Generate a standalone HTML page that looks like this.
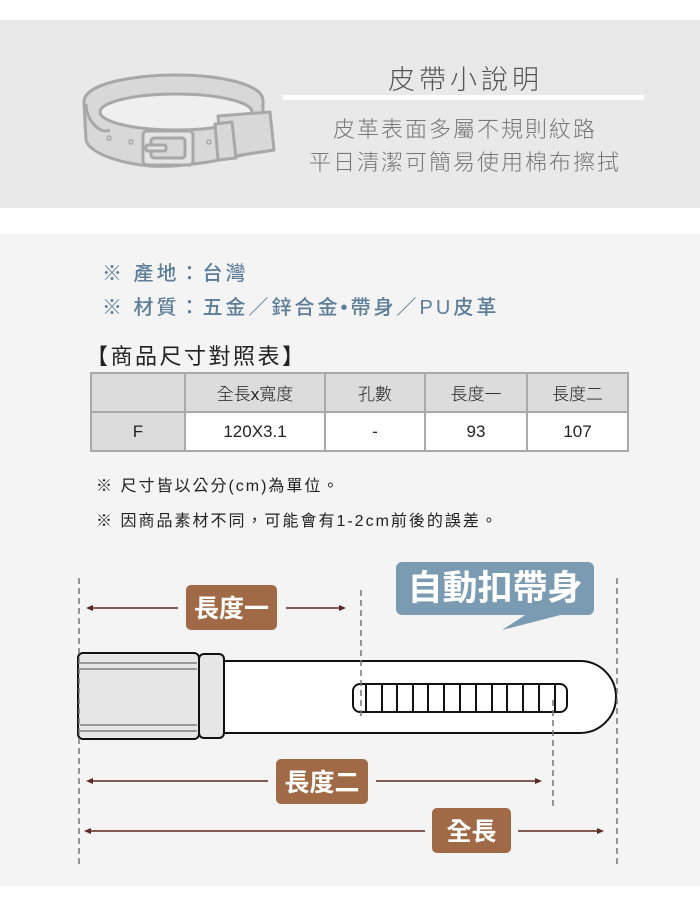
<!DOCTYPE html>
<html><head><meta charset="utf-8">
<style>
*{margin:0;padding:0;box-sizing:border-box}
body{width:700px;height:910px;background:#fff;position:relative;overflow:hidden;font-family:"Liberation Sans","Noto Sans CJK TC",sans-serif}
.band{position:absolute;left:0;top:20px;width:700px;height:188px;background:#e9e9e9}
.light{position:absolute;left:0;top:234px;width:700px;height:652px;background:#f4f4f4}
.t{position:absolute;white-space:nowrap;font-family:"Liberation Sans","Noto Sans CJK TC",sans-serif}
table{position:absolute;left:90px;top:372px;border-collapse:collapse;font-size:17px;color:#222}
td{border:2px solid #a9a9a9;text-align:center;height:39px;background:#fff;font-family:"Liberation Sans","Noto Sans CJK TC",sans-serif;font-weight:300}
tr.h td{background:#dcdcdc}
td.f{background:#dcdcdc}
.lab{position:absolute;background:#9f6a45;color:#fff;font-weight:700;border-radius:5px;text-align:center;font-family:"Noto Sans CJK TC",sans-serif}
</style></head><body>
<div class="band"></div>
<div class="light"></div>

<svg style="position:absolute;left:0;top:0" width="700" height="910">
<g fill="#d8d8d8" stroke="#a8a8a8" stroke-width="3" stroke-linejoin="round">
<path d="M84,102 C84,82 140,75 175,75 C220,75 262,84 263,100 L263,118 L260,150 C230,160 180,168 150,166 C110,162 88,150 86,140 Z"/>
<ellipse cx="176" cy="112" rx="76" ry="18" fill="#efefef"/>
<path d="M86,104 C86,120 100,135 110,130" fill="none"/>
<path d="M218,116 L270,112 L274,150 L222,158 Z"/>
<path d="M215,124 L232,122 L236,158 L218,160 Z"/>
<rect x="143" y="131" width="50" height="34" rx="4" fill="#e4e4e4"/>
<rect x="151" y="138" width="34" height="20" rx="3" fill="#d8d8d8"/>
<rect x="146" y="145" width="20" height="6" rx="2" fill="#e4e4e4"/>
<circle cx="109" cy="138" r="2" fill="none" stroke-width="1.5"/>
<circle cx="131" cy="142" r="2" fill="none" stroke-width="1.5"/>
<circle cx="209" cy="142" r="2" fill="none" stroke-width="1.5"/>
</g>
<rect x="283" y="95" width="361" height="5" fill="#fff"/>

<rect x="396" y="562" width="198" height="53" rx="6" fill="#7b9bb3"/>
<polygon points="530,612 502,630 572,612" fill="#7b9bb3"/>
<path d="M224,661 L580,661 A36,36 0 0 1 580,733 L224,733 Z" fill="#fff" stroke="#111" stroke-width="2"/>
<rect x="78" y="653" width="121" height="86" rx="5" fill="#e6e6e6" stroke="#111" stroke-width="2"/>
<g stroke="#999" stroke-width="2"><line x1="80" y1="663" x2="197" y2="663"/><line x1="80" y1="669" x2="197" y2="669"/><line x1="80" y1="725" x2="197" y2="725"/><line x1="80" y1="731" x2="197" y2="731"/></g>
<rect x="199" y="654" width="25" height="84" rx="5" fill="#e6e6e6" stroke="#111" stroke-width="2"/>
<rect x="353" y="684" width="214" height="28" rx="7" fill="#fff" stroke="#111" stroke-width="2"/>
<g stroke="#111" stroke-width="2">
<line x1="366" y1="685" x2="366" y2="711"/><line x1="382" y1="685" x2="382" y2="711"/><line x1="397" y1="685" x2="397" y2="711"/><line x1="413" y1="685" x2="413" y2="711"/><line x1="428" y1="685" x2="428" y2="711"/><line x1="444" y1="685" x2="444" y2="711"/><line x1="460" y1="685" x2="460" y2="711"/><line x1="476" y1="685" x2="476" y2="711"/><line x1="492" y1="685" x2="492" y2="711"/><line x1="507" y1="685" x2="507" y2="711"/><line x1="523" y1="685" x2="523" y2="711"/><line x1="539" y1="685" x2="539" y2="711"/><line x1="555" y1="685" x2="555" y2="711"/>
</g>
<g stroke="#777" stroke-width="1.5" stroke-dasharray="6,4" fill="none">
<line x1="79" y1="578" x2="79" y2="865"/>
<line x1="361" y1="590" x2="361" y2="718"/>
<line x1="553" y1="700" x2="553" y2="810"/>
<line x1="617" y1="578" x2="617" y2="865"/>
</g>
<g stroke="#5a2a20" stroke-width="1.5" fill="#5a2a20">
<line x1="90" y1="608" x2="178" y2="608"/><line x1="286" y1="608" x2="342" y2="608"/>
<polygon points="86,608 93,605 93,611" stroke="none"/><polygon points="346,608 339,605 339,611" stroke="none"/>
<line x1="90" y1="781" x2="268" y2="781"/><line x1="376" y1="781" x2="538" y2="781"/>
<polygon points="86,781 93,778 93,784" stroke="none"/><polygon points="542,781 535,778 535,784" stroke="none"/>
<line x1="88" y1="831" x2="425" y2="831"/><line x1="518" y1="831" x2="600" y2="831"/>
<polygon points="84,831 91,828 91,834" stroke="none"/><polygon points="604,831 597,828 597,834" stroke="none"/>
</g>
</svg>

<div class="t" style="left:388px;top:58px;font-size:27px;color:#555;font-weight:300;letter-spacing:4px">皮帶小說明</div>
<div class="t" style="left:333px;top:112px;font-size:22px;color:#777;font-weight:300;letter-spacing:2px">皮革表面多屬不規則紋路</div>
<div class="t" style="left:309px;top:145px;font-size:22px;color:#777;font-weight:300;letter-spacing:2px">平日清潔可簡易使用棉布擦拭</div>

<div class="t" style="left:102px;top:257px;font-size:20px;color:#5d7d98;letter-spacing:3px;font-weight:500">※ 產地：台灣</div>
<div class="t" style="left:102px;top:291px;font-size:20px;color:#5d7d98;letter-spacing:3px;font-weight:500">※ 材質：五金／鋅合金•帶身／PU皮革</div>
<div class="t" style="left:86px;top:339px;font-size:22px;color:#222;letter-spacing:2.5px">【商品尺寸對照表】</div>

<table>
<tr class="h"><td style="width:94px"></td><td style="width:140px">全長x寬度</td><td style="width:100px">孔數</td><td style="width:102px">長度一</td><td style="width:101px">長度二</td></tr>
<tr><td class="f">F</td><td>120X3.1</td><td>-</td><td>93</td><td>107</td></tr>
</table>

<div class="t" style="left:96px;top:472px;font-size:16px;color:#222;letter-spacing:2px">※ 尺寸皆以公分(cm)為單位。</div>
<div class="t" style="left:96px;top:507px;font-size:16px;color:#222;letter-spacing:2px">※ 因商品素材不同，可能會有1-2cm前後的誤差。</div>

<div class="t" style="left:396px;top:562px;width:198px;text-align:center;font-size:35px;line-height:48px;color:#fff;font-weight:700;font-family:'Noto Sans CJK TC',sans-serif">自動扣帶身</div>
<div class="lab" style="left:186px;top:585px;width:91px;height:45px;font-size:25px;line-height:45px">長度一</div>
<div class="lab" style="left:276px;top:759px;width:92px;height:45px;font-size:25px;line-height:45px">長度二</div>
<div class="lab" style="left:432px;top:808px;width:79px;height:45px;font-size:25px;line-height:45px">全長</div>
</body></html>
